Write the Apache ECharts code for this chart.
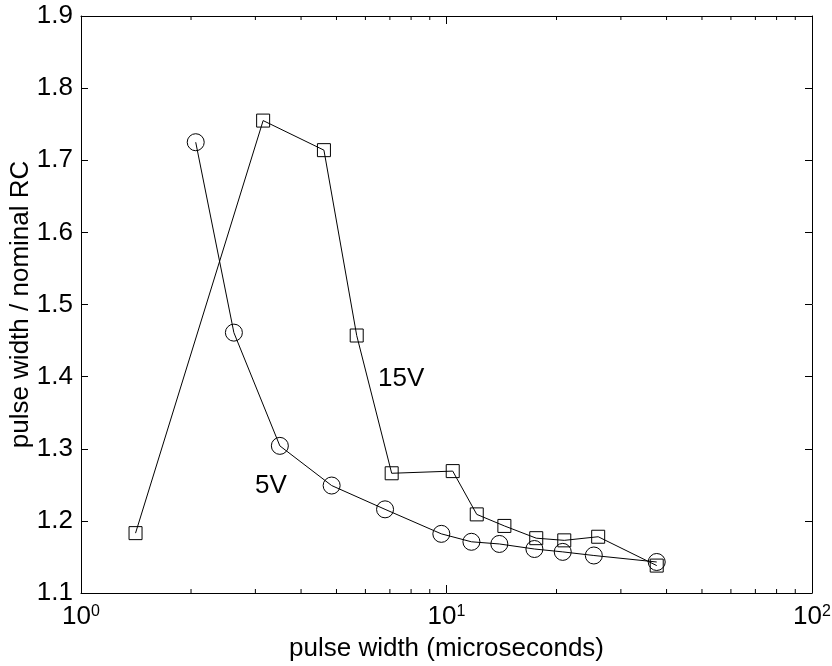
<!DOCTYPE html>
<html>
<head>
<meta charset="utf-8">
<script src="https://cdn.jsdelivr.net/npm/echarts@6/dist/echarts.min.js"></script>
<style>
html,body{margin:0;padding:0;background:#fff;}
#chart{width:832px;height:666px;}
</style>
</head>
<body>
<div id="chart"></div>
<script>
// ---- data ----
const v5X  = [2.06, 2.62, 3.50, 4.85, 6.79, 9.68, 11.7, 13.95, 17.4, 20.8, 25.3, 37.6];
const v5Y  = [1.725, 1.461, 1.304, 1.249, 1.216, 1.182, 1.171, 1.168, 1.161, 1.157, 1.152, 1.143];
const v15X = [1.41, 3.15, 4.62, 5.68, 7.08, 10.4, 12.1, 14.4, 17.6, 21.0, 26.0, 37.6];
const v15Y = [1.183, 1.755, 1.714, 1.457, 1.266, 1.269, 1.209, 1.193, 1.176, 1.173, 1.178, 1.138];
const minorTicks = [2,3,4,5,6,7,8,9,20,30,40,50,60,70,80,90];
const xLabel = 'pulse width (microseconds)';
const yLabel = 'pulse width / nominal RC';
const label5 = '5V';
const label15 = '15V';

const FONT = '"Liberation Sans", Arial, sans-serif';
const FS = 26;
const yMin = 1.1, yMax = 1.9;

function pairs(xs, ys){ return xs.map((x,i)=>[x, ys[i]]); }

const chart = echarts.init(document.getElementById('chart'), null, {renderer:'canvas'});

const axisLine = {show:true, lineStyle:{color:'#000', width:1}};
const option = {
  animation:false,
  backgroundColor:'#fff',
  textStyle:{fontFamily:FONT, color:'#000'},
  grid:{left:81, right:20, top:16, bottom:73, containLabel:false, outerBoundsMode:'none'},
  xAxis:[{
    type:'log', logBase:10, min:1, max:100,
    position:'bottom',
    axisLine:axisLine,
    axisTick:{show:true, inside:true, length:8, lineStyle:{color:'#000'}},
    splitLine:{show:false},
    minorTick:{show:false},
    axisLabel:{
      margin:11, color:'#000',
      formatter:function(v){ return '{b|10}{s|' + Math.round(Math.log10(v)) + '}'; },
      rich:{
        b:{fontSize:FS, fontFamily:FONT, color:'#000', lineHeight:26, verticalAlign:'bottom'},
        s:{fontSize:16, fontFamily:FONT, color:'#000', lineHeight:17, verticalAlign:'top', padding:[0,0,16,0]}
      }
    },
    name:xLabel, nameLocation:'middle', nameGap:43, nameMoveOverlap:false,
    nameTextStyle:{fontSize:FS, fontFamily:FONT, color:'#000'}
  },{
    type:'log', logBase:10, min:1, max:100,
    position:'top',
    axisLine:axisLine,
    axisTick:{show:true, inside:true, length:8, lineStyle:{color:'#000'}},
    axisLabel:{show:false},
    splitLine:{show:false}
  }],
  yAxis:[{
    type:'value', min:yMin, max:yMax, interval:0.1,
    position:'left',
    axisLine:axisLine,
    axisTick:{show:true, inside:true, length:7, lineStyle:{color:'#000'}},
    splitLine:{show:false},
    axisLabel:{margin:8, fontSize:FS, fontFamily:FONT, color:'#000',
      formatter:function(v){ return v.toFixed(1); }},
    name:yLabel, nameLocation:'middle', nameGap:47, nameMoveOverlap:false,
    nameTextStyle:{fontSize:FS, fontFamily:FONT, color:'#000'}
  },{
    type:'value', min:yMin, max:yMax, interval:0.1,
    position:'right',
    axisLine:axisLine,
    axisTick:{show:true, inside:true, length:7, lineStyle:{color:'#000'}},
    splitLine:{show:false},
    axisLabel:{show:false}
  }],
  series:[
    {
      name:label5, type:'line', xAxisIndex:0, yAxisIndex:0,
      data:pairs(v5X, v5Y),
      symbol:'circle', symbolSize:17,
      lineStyle:{color:'#000', width:1},
      itemStyle:{color:'rgba(0,0,0,0)', borderColor:'#000', borderWidth:1},
      z:3
    },
    {
      name:label15, type:'line', xAxisIndex:0, yAxisIndex:0,
      data:pairs(v15X, v15Y),
      symbol:'rect', symbolSize:13,
      lineStyle:{color:'#000', width:1},
      itemStyle:{color:'rgba(0,0,0,0)', borderColor:'#000', borderWidth:1},
      z:3
    },
    {
      type:'custom', xAxisIndex:0, yAxisIndex:0, silent:true, clip:false,
      data:minorTicks.map(v=>[v, yMin]),
      renderItem:function(params, api){
        const x = api.value(0);
        const pb = api.coord([x, yMin]);
        const pt = api.coord([x, yMax]);
        return {type:'group', children:[
          {type:'line', shape:{x1:pb[0], y1:pb[1], x2:pb[0], y2:pb[1]-4}, style:{stroke:'#000', lineWidth:1}},
          {type:'line', shape:{x1:pt[0], y1:pt[1], x2:pt[0], y2:pt[1]+4}, style:{stroke:'#000', lineWidth:1}}
        ]};
      }
    }
  ],
  graphic:[
    {type:'text', left:378, top:366, style:{text:label15, font:FS+'px '+FONT, fill:'#000'}},
    {type:'text', left:255, top:473, style:{text:label5, font:FS+'px '+FONT, fill:'#000'}}
  ]
};
chart.setOption(option);
</script>
</body>
</html>
